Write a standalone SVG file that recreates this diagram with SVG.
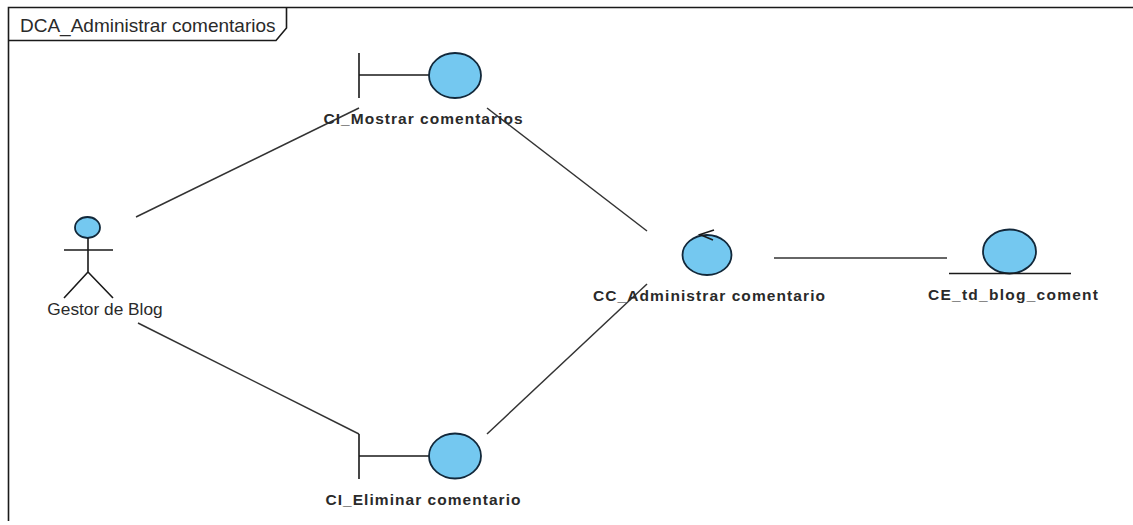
<svg xmlns="http://www.w3.org/2000/svg" width="1133" height="525" viewBox="0 0 1133 525">
<style>
.l{stroke:#1a1a1a;stroke-width:1.6;fill:none}
.c{stroke:#333;stroke-width:1.5;fill:none}
.b{fill:#74c8f0;stroke:#12283a;stroke-width:1.8}
text{font-family:"Liberation Sans",Arial,sans-serif;fill:#2a2a2a}
.n{font-size:15.500px;font-weight:bold;text-anchor:middle}
</style>
<rect width="1133" height="525" fill="#fff"/>
<g id="frame">
<path class="l" d="M8.500 521V7.500H1133"/>
<path class="l" d="M8.500 40.500H276L286.500 28V7.500"/>
<text x="20" y="31.500" font-size="19">DCA_Administrar comentarios</text>
</g>
<g id="connectors">
<path class="c" d="M136 217L359 108"/>
<path class="c" d="M487 108L647 231"/>
<path class="c" d="M138 323L359 434"/>
<path class="c" d="M487 434L647 284"/>
<path class="c" d="M774 258H947"/>
</g>
<g id="ci-mostrar">
<path class="l" d="M359 53V98M359 75H429"/>
<ellipse class="b" cx="455" cy="75.500" rx="26" ry="22.500"/>
<text class="n" x="423" y="124" textLength="199">CI_Mostrar comentarios</text>
</g>
<g id="actor">
<ellipse class="b" cx="87.500" cy="227.500" rx="12.500" ry="10.500"/>
<path class="l" d="M88 238V272M64 250H113M88 272L64 298M88 272L113 298"/>
<text x="105" y="315" font-size="17.300" text-anchor="middle">Gestor de Blog</text>
</g>
<g id="cc-administrar">
<ellipse class="b" cx="707" cy="255" rx="24.500" ry="20"/>
<path class="l" d="M714 230L700 234.500L713 240"/>
<text class="n" x="709" y="301" textLength="232">CC_Administrar comentario</text>
</g>
<g id="ce-coment">
<ellipse class="b" cx="1009.500" cy="251.500" rx="26.500" ry="22"/>
<path class="l" d="M949 273.500H1071"/>
<text class="n" x="1013" y="300" textLength="170">CE_td_blog_coment</text>
</g>
<g id="ci-eliminar">
<path class="l" d="M359 434V479M359 456H429"/>
<ellipse class="b" cx="455" cy="456" rx="26" ry="22.500"/>
<text class="n" x="423" y="505" textLength="195">CI_Eliminar comentario</text>
</g>
</svg>
